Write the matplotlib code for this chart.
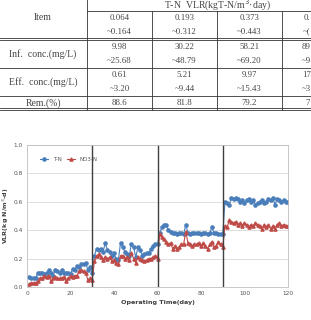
import numpy as np
import matplotlib
matplotlib.use('Agg')
from matplotlib import pyplot as plt
from matplotlib.lines import Line2D

# table data
vlr_low = ['0.064', '0.193', '0.373', '0.']
vlr_high = ['~0.164', '~0.312', '~0.443', '~(']
inf_low = ['9.98', '30.22', '58.21', '89']
inf_high = ['~25.68', '~48.79', '~69.20', '~9']
eff_low = ['0.61', '5.21', '9.97', '17']
eff_high = ['~3.20', '~9.44', '~15.43', '~3']
rem = ['88.6', '81.8', '79.2', '7']

# chart data
days = np.arange(1, 121)
tn = [0.07, 0.065, 0.065, 0.065, 0.10, 0.10, 0.10, 0.09, 0.10, 0.12,
      0.10, 0.08, 0.12, 0.11, 0.10, 0.12, 0.10, 0.10, 0.10, 0.09,
      0.13, 0.12, 0.15, 0.14, 0.16, 0.16, 0.17, 0.12, 0.14, 0.10,
      0.22, 0.27, 0.26, 0.27, 0.25, 0.31, 0.26, 0.25, 0.22, 0.24,
      0.20, 0.19, 0.31, 0.28, 0.25, 0.23, 0.22, 0.30, 0.28, 0.21,
      0.28, 0.26, 0.22, 0.23, 0.24, 0.24, 0.27, 0.29, 0.30, 0.30,
      0.38, 0.42, 0.44, 0.44, 0.40, 0.39, 0.38, 0.38, 0.37, 0.38,
      0.38, 0.37, 0.44, 0.38, 0.37, 0.38, 0.38, 0.38, 0.38, 0.37,
      0.38, 0.38, 0.37, 0.38, 0.42, 0.38, 0.38, 0.37, 0.37, 0.37,
      0.60, 0.59, 0.58, 0.63, 0.62, 0.63, 0.62, 0.60, 0.61, 0.59,
      0.61, 0.62, 0.60, 0.61, 0.58, 0.59, 0.60, 0.61, 0.59, 0.60,
      0.62, 0.61, 0.63, 0.58, 0.62, 0.61, 0.60, 0.61, 0.60, 0.60]
no3 = [0.02, 0.03, 0.03, 0.03, 0.04, 0.06, 0.06, 0.08, 0.07, 0.08,
       0.04, 0.06, 0.07, 0.06, 0.06, 0.06, 0.07, 0.04, 0.06, 0.08,
       0.07, 0.08, 0.08, 0.11, 0.12, 0.11, 0.10, 0.05, 0.06, 0.05,
       0.18, 0.22, 0.23, 0.21, 0.19, 0.21, 0.20, 0.21, 0.18, 0.19,
       0.17, 0.16, 0.22, 0.22, 0.20, 0.21, 0.19, 0.24, 0.20, 0.17,
       0.21, 0.20, 0.19, 0.18, 0.19, 0.20, 0.20, 0.21, 0.22, 0.20,
       0.37, 0.35, 0.34, 0.32, 0.30, 0.31, 0.27, 0.29, 0.27, 0.28,
       0.30, 0.30, 0.39, 0.31, 0.30, 0.29, 0.30, 0.30, 0.31, 0.29,
       0.31, 0.29, 0.27, 0.30, 0.32, 0.28, 0.29, 0.32, 0.30, 0.28,
       0.43, 0.42, 0.47, 0.46, 0.45, 0.46, 0.44, 0.45, 0.43, 0.45,
       0.44, 0.42, 0.44, 0.43, 0.45, 0.44, 0.43, 0.41, 0.44, 0.42,
       0.44, 0.41, 0.43, 0.41, 0.44, 0.45, 0.43, 0.44, 0.43, 0.43]
stage_ends = [30, 60, 90]

W, H = 311, 320
fig = plt.figure(figsize=(W / 100, H / 100), dpi=100)


def fx(px):
    return px / W


def fy(py):
    return 1 - py / H


def hline(y, x0=0, x1=W, lw=0.6):
    fig.add_artist(Line2D([fx(x0), fx(x1)], [fy(y), fy(y)], color='#333333', lw=lw))


def vline(x, y0, y1, lw=0.6):
    fig.add_artist(Line2D([fx(x), fx(x)], [fy(y0), fy(y1)], color='#333333', lw=lw))


tkw = dict(ha='center', va='center', fontsize=6.3, color='#444444',
           family='Liberation Serif')
lkw = dict(tkw, fontsize=7)

# table grid
hline(11, 87)
hline(38)
hline(40)
hline(68)
hline(96)
hline(108)
hline(110)
vline(87, 0, 110)
for x in [152, 217, 282]:
    vline(x, 11, 110)

fig.text(fx(217), fy(5.5), 'T-N  VLR(kgT-N/m$^3$·day)', **lkw)
fig.text(fx(43), fy(18), 'Item', **lkw)
fig.text(fx(43), fy(54), 'Inf.  conc.(mg/L)', **lkw)
fig.text(fx(43), fy(82), 'Eff.  conc.(mg/L)', **lkw)
fig.text(fx(43), fy(103), 'Rem.(%)', **lkw)
rows_y = [(18, 32), (47, 61), (75, 89)]
for i, cx in enumerate([119.5, 184.5, 249.5]):
    for (ya, yb), (lo, hi) in zip(rows_y, [(vlr_low, vlr_high), (inf_low, inf_high), (eff_low, eff_high)]):
        fig.text(fx(cx), fy(ya), lo[i], **tkw)
        fig.text(fx(cx), fy(yb), hi[i], **tkw)
    fig.text(fx(cx), fy(103), rem[i], **tkw)
# last column is cut by the right edge
ckw = dict(tkw, ha='left')
fig.text(fx(304), fy(18), vlr_low[3], **ckw)
fig.text(fx(303), fy(32), vlr_high[3], **ckw)
fig.text(fx(302), fy(47), inf_low[3], **ckw)
fig.text(fx(302), fy(61), inf_high[3], **ckw)
fig.text(fx(302), fy(75), eff_low[3], **ckw)
fig.text(fx(302), fy(89), eff_high[3], **ckw)
fig.text(fx(305), fy(103), rem[3], **ckw)

# chart
ax = fig.add_axes([fx(27), fy(287), fx(288) - fx(27), fy(145) - fy(287)])
ax.plot(days, tn, color='#4a7ebb', marker='o', markersize=2.3, lw=0.8, label='T-N')
ax.plot(days, no3, color='#be4b48', marker='^', markersize=2.3, lw=0.8, label='NO3-N')
for d in stage_ends:
    ax.axvline(d, color='#404040', lw=1.0)
ax.set_xlim(0, 120)
ax.set_ylim(0, 1.0)
ax.set_xticks(np.arange(0, 121, 20))
ax.set_yticks(np.arange(0, 1.01, 0.2))
ax.set_yticklabels(['0.0', '0.2', '0.4', '0.6', '0.8', '1.0'])
ax.grid(axis='y', color='#d9d9d9', lw=0.6)
ax.set_axisbelow(True)
ax.tick_params(labelsize=4.2, colors='#555555', length=0, pad=3)
for s in ax.spines.values():
    s.set_color('#bfbfbf')
    s.set_linewidth(0.6)
ax.set_xlabel('Operating Time(day)', fontsize=4.6, fontweight='bold', color='#404040', labelpad=3)
ax.set_ylabel('VLR(kg N/m$^3$-d)', fontsize=4.6, fontweight='bold', color='#404040', labelpad=2)
ax.legend(loc='upper left', ncol=2, fontsize=4, frameon=False, handlelength=1.5,
          columnspacing=1.0, bbox_to_anchor=(0.03, 0.95), labelcolor='#555555')

fig.savefig('out.png', dpi=100)
